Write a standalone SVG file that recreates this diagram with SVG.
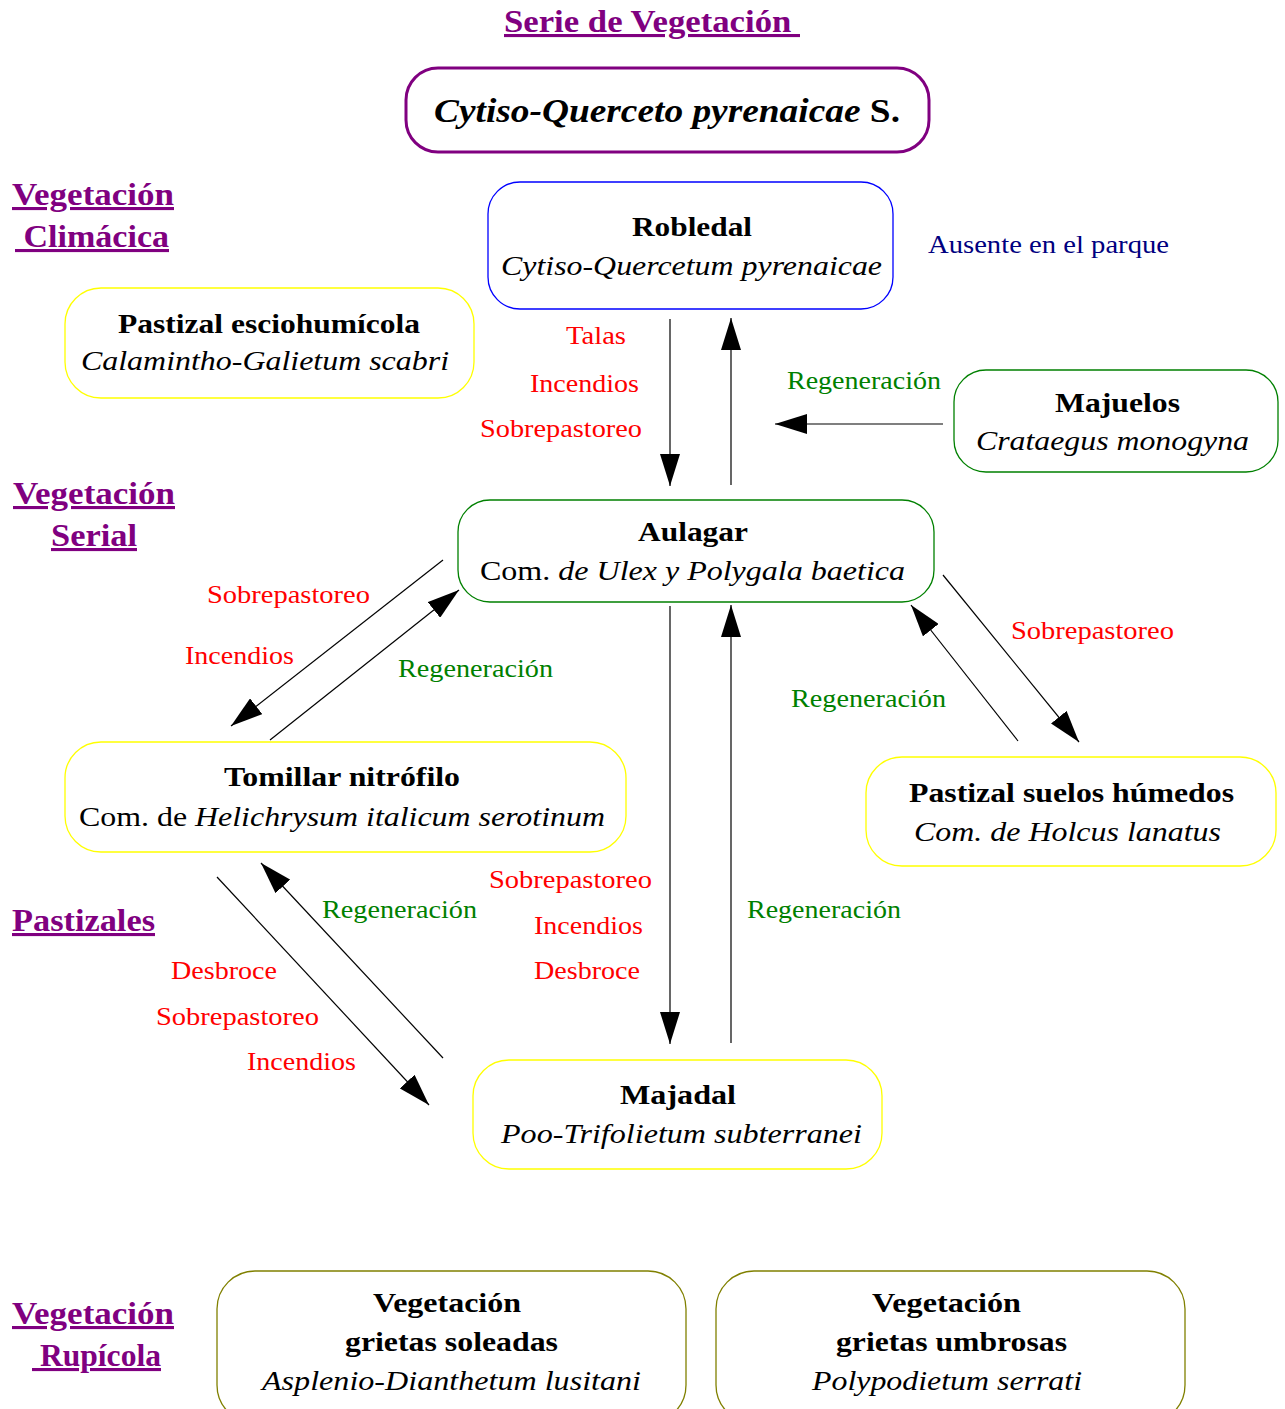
<svg xmlns="http://www.w3.org/2000/svg" width="1285" height="1409" viewBox="0 0 1285 1409" font-family="'Liberation Serif', 'Times New Roman', Times, serif">
  <style>
    text { font-family: 'Liberation Serif', 'Times New Roman', Times, serif; }
    .head { font-size: 31px; font-weight: bold; fill: #800080; text-decoration: underline; }
    .name { font-size: 28px; font-weight: bold; fill: #000; }
    .sci { font-size: 28px; font-style: italic; fill: #000; }
    .reg { font-style: normal; }
    .red { font-size: 25px; fill: #ff0000; }
    .green { font-size: 25px; fill: #008000; }
    .navy { font-size: 25px; fill: #000080; }
    .box { fill: #fff; stroke-width: 1.3; }
    .conn line { stroke: #000; stroke-width: 1.2; marker-end: url(#arrow); }
  </style>
  <defs>
    <marker id="arrow" markerUnits="userSpaceOnUse" markerWidth="32" markerHeight="20" viewBox="0 0 32 20" refX="32" refY="10" orient="auto">
      <path d="M0,0 L32,10 L0,20 z" fill="#000"/>
    </marker>
  </defs>

  <rect width="1285" height="1409" fill="#fff"/>

  <!-- section headings -->
  <g id="headings">
    <text class="head" x="504" y="32" textLength="296" lengthAdjust="spacingAndGlyphs" xml:space="preserve">Serie de Vegetación </text>
    <text class="head" x="12" y="205" textLength="162" lengthAdjust="spacingAndGlyphs">Vegetación</text>
    <text class="head" x="15" y="247" textLength="154" lengthAdjust="spacingAndGlyphs" xml:space="preserve"> Climácica</text>
    <text class="head" x="13" y="504" textLength="162" lengthAdjust="spacingAndGlyphs">Vegetación</text>
    <text class="head" x="51" y="546" textLength="86" lengthAdjust="spacingAndGlyphs">Serial</text>
    <text class="head" x="12" y="931" textLength="143" lengthAdjust="spacingAndGlyphs">Pastizales</text>
    <text class="head" x="12" y="1324" textLength="162" lengthAdjust="spacingAndGlyphs">Vegetación</text>
    <text class="head" x="32" y="1366" textLength="129" lengthAdjust="spacingAndGlyphs" xml:space="preserve"> Rupícola</text>
  </g>

  <!-- series title box -->
  <g id="serie">
    <rect x="406" y="68" width="523" height="84" rx="32" fill="#fff" stroke="#800080" stroke-width="3"/>
    <text x="434" y="122" font-size="34" font-weight="bold" font-style="italic" textLength="466" lengthAdjust="spacingAndGlyphs">Cytiso-Querceto pyrenaicae <tspan font-style="normal">S.</tspan></text>
  </g>

  <g id="robledal">
    <rect class="box" x="488" y="182" width="405" height="127" rx="32" stroke="#0000ff"/>
    <text class="name" x="632" y="236" textLength="120" lengthAdjust="spacingAndGlyphs">Robledal</text>
    <text class="sci" x="501" y="275" textLength="381" lengthAdjust="spacingAndGlyphs">Cytiso-Quercetum pyrenaicae</text>
  </g>

  <g id="esciohumicola">
    <rect class="box" x="65" y="288" width="409" height="110" rx="36" stroke="#ffff00"/>
    <text class="name" x="118" y="333" textLength="302" lengthAdjust="spacingAndGlyphs">Pastizal esciohumícola</text>
    <text class="sci" x="81" y="370" textLength="368" lengthAdjust="spacingAndGlyphs">Calamintho-Galietum scabri</text>
  </g>

  <g id="majuelos">
    <rect class="box" x="954" y="370" width="324" height="102" rx="32" stroke="#008000"/>
    <text class="name" x="1055" y="412" textLength="125" lengthAdjust="spacingAndGlyphs">Majuelos</text>
    <text class="sci" x="976" y="450" textLength="273" lengthAdjust="spacingAndGlyphs">Crataegus monogyna</text>
  </g>

  <g id="aulagar">
    <rect class="box" x="458" y="500" width="476" height="102" rx="32" stroke="#008000"/>
    <text class="name" x="638" y="541" textLength="110" lengthAdjust="spacingAndGlyphs">Aulagar</text>
    <text class="sci" x="480" y="580" textLength="425" lengthAdjust="spacingAndGlyphs"><tspan class="reg">Com.</tspan> de Ulex y Polygala baetica</text>
  </g>

  <g id="tomillar">
    <rect class="box" x="65" y="742" width="561" height="110" rx="36" stroke="#ffff00"/>
    <text class="name" x="224" y="786" textLength="236" lengthAdjust="spacingAndGlyphs">Tomillar nitrófilo</text>
    <text class="sci" x="79" y="826" textLength="526" lengthAdjust="spacingAndGlyphs"><tspan class="reg">Com. de</tspan> Helichrysum italicum serotinum</text>
  </g>

  <g id="humedos">
    <rect class="box" x="866" y="757" width="410" height="109" rx="36" stroke="#ffff00"/>
    <text class="name" x="909" y="802" textLength="325" lengthAdjust="spacingAndGlyphs">Pastizal suelos húmedos</text>
    <text class="sci" x="914" y="841" textLength="307" lengthAdjust="spacingAndGlyphs">Com. de Holcus lanatus</text>
  </g>

  <g id="majadal">
    <rect class="box" x="473" y="1060" width="409" height="109" rx="36" stroke="#ffff00"/>
    <text class="name" x="620" y="1104" textLength="116" lengthAdjust="spacingAndGlyphs">Majadal</text>
    <text class="sci" x="501" y="1143" textLength="361" lengthAdjust="spacingAndGlyphs">Poo-Trifolietum subterranei</text>
  </g>

  <g id="soleadas">
    <rect class="box" x="217" y="1271" width="469" height="152" rx="38" stroke="#808000"/>
    <text class="name" x="373" y="1312" textLength="148" lengthAdjust="spacingAndGlyphs">Vegetación</text>
    <text class="name" x="345" y="1351" textLength="213" lengthAdjust="spacingAndGlyphs">grietas soleadas</text>
    <text class="sci" x="262" y="1390" textLength="379" lengthAdjust="spacingAndGlyphs">Asplenio-Dianthetum lusitani</text>
  </g>

  <g id="umbrosas">
    <rect class="box" x="716" y="1271" width="469" height="152" rx="38" stroke="#808000"/>
    <text class="name" x="872" y="1312" textLength="149" lengthAdjust="spacingAndGlyphs">Vegetación</text>
    <text class="name" x="836" y="1351" textLength="231" lengthAdjust="spacingAndGlyphs">grietas umbrosas</text>
    <text class="sci" x="812" y="1390" textLength="270" lengthAdjust="spacingAndGlyphs">Polypodietum serrati</text>
  </g>

  <!-- connectors -->
  <g id="connectors" class="conn">
    <line x1="670" y1="319" x2="670" y2="486"/>
    <line x1="731" y1="485" x2="731" y2="318"/>
    <line x1="943" y1="424" x2="775" y2="424"/>
    <line x1="443" y1="560" x2="231" y2="726"/>
    <line x1="270" y1="740" x2="459" y2="590"/>
    <line x1="670" y1="606" x2="670" y2="1044"/>
    <line x1="731" y1="1043" x2="731" y2="605"/>
    <line x1="943" y1="575" x2="1079" y2="742"/>
    <line x1="1018" y1="741" x2="911" y2="605"/>
    <line x1="217" y1="877" x2="429" y2="1105"/>
    <line x1="443" y1="1058" x2="261" y2="863"/>
  </g>

  <!-- connector labels -->
  <g id="labels">
    <text class="navy" x="928" y="253" textLength="241" lengthAdjust="spacingAndGlyphs">Ausente en el parque</text>
    <text class="red" x="566" y="344" textLength="60" lengthAdjust="spacingAndGlyphs">Talas</text>
    <text class="red" x="530" y="392" textLength="109" lengthAdjust="spacingAndGlyphs">Incendios</text>
    <text class="red" x="480" y="437" textLength="162" lengthAdjust="spacingAndGlyphs">Sobrepastoreo</text>
    <text class="green" x="787" y="389" textLength="154" lengthAdjust="spacingAndGlyphs">Regeneración</text>
    <text class="red" x="207" y="603" textLength="163" lengthAdjust="spacingAndGlyphs">Sobrepastoreo</text>
    <text class="red" x="185" y="664" textLength="109" lengthAdjust="spacingAndGlyphs">Incendios</text>
    <text class="green" x="398" y="677" textLength="155" lengthAdjust="spacingAndGlyphs">Regeneración</text>
    <text class="red" x="1011" y="639" textLength="163" lengthAdjust="spacingAndGlyphs">Sobrepastoreo</text>
    <text class="green" x="791" y="707" textLength="155" lengthAdjust="spacingAndGlyphs">Regeneración</text>
    <text class="red" x="489" y="888" textLength="163" lengthAdjust="spacingAndGlyphs">Sobrepastoreo</text>
    <text class="red" x="534" y="934" textLength="109" lengthAdjust="spacingAndGlyphs">Incendios</text>
    <text class="red" x="534" y="979" textLength="106" lengthAdjust="spacingAndGlyphs">Desbroce</text>
    <text class="green" x="747" y="918" textLength="154" lengthAdjust="spacingAndGlyphs">Regeneración</text>
    <text class="green" x="322" y="918" textLength="155" lengthAdjust="spacingAndGlyphs">Regeneración</text>
    <text class="red" x="171" y="979" textLength="106" lengthAdjust="spacingAndGlyphs">Desbroce</text>
    <text class="red" x="156" y="1025" textLength="163" lengthAdjust="spacingAndGlyphs">Sobrepastoreo</text>
    <text class="red" x="247" y="1070" textLength="109" lengthAdjust="spacingAndGlyphs">Incendios</text>
  </g>
</svg>
